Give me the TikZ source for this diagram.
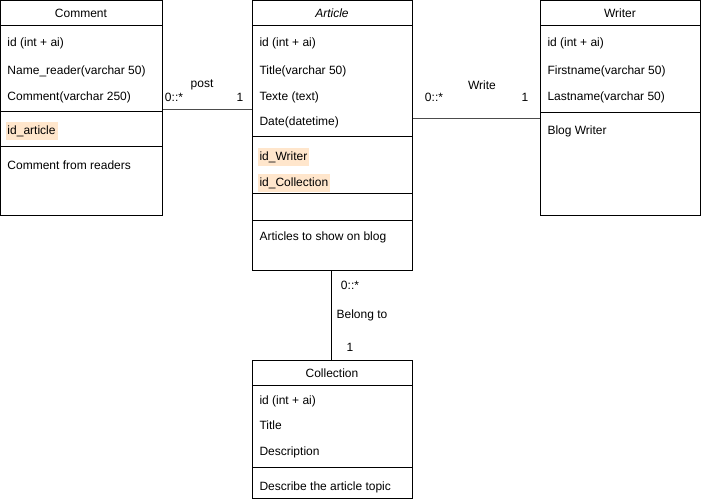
\documentclass[tikz,border=0pt]{standalone}
\usepackage{fontspec}
\setmainfont{Liberation Sans}
\begin{document}
\begin{tikzpicture}[x=1pt,y=-1pt,line width=1pt,
  every node/.style={font=\fontsize{12}{14}\selectfont},
  umlbox/.style={draw,rectangle,anchor=north west,inner sep=0pt},
  attr/.style={anchor=west,inner xsep=2pt,inner ysep=3pt,text height=9pt,text depth=3pt,yshift=-1.5pt},
  fk/.style={attr,fill=fkfill},
  ttl/.style={anchor=center,inner sep=0pt},
  lbl/.style={anchor=center,inner sep=0pt},
  assoc/.style={draw=black!70,line width=1pt},
]
\definecolor{fkfill}{HTML}{FFE6CC}
\useasboundingbox (0,0) rectangle (702,502);

% Comment
\node[umlbox,minimum width=162pt,minimum height=215pt] (comment) at (0,0) {};
\draw (comment.north west) ++(0,26) coordinate (c1) -- (c1 -| comment.east);
\draw (comment.north west) ++(0,112) coordinate (c2) -- (c2 -| comment.east);
\draw (comment.north west) ++(0,147) coordinate (c3) -- (c3 -| comment.east);
\node[ttl] (commentT) at (81,13) {Comment};
\node[attr] (cA1) at (5,42) {id (int + ai)};
\node[attr] (cA2) at (5,70) {Name\_reader(varchar 50)};
\node[attr] (cA3) at (5,96) {Comment(varchar 250)};
\node[fk] (cA4) at (5,130) {id\_article};
\node[attr] (cA5) at (5,165) {Comment from readers};

% Article
\node[umlbox,minimum width=160pt,minimum height=270pt] (article) at (252,0) {};
\draw (article.north west) ++(0,26) coordinate (a1) -- (a1 -| article.east);
\draw (article.north west) ++(0,137) coordinate (a2) -- (a2 -| article.east);
\draw (article.north west) ++(0,194) coordinate (a3) -- (a3 -| article.east);
\draw (article.north west) ++(0,221) coordinate (a4) -- (a4 -| article.east);
\node[ttl,font=\fontsize{12}{14}\selectfont\itshape] (articleT) at (332,13) {Article};
\node[attr] (aA1) at (257,42) {id (int + ai)};
\node[attr] (aA2) at (257,70) {Title(varchar 50)};
\node[attr] (aA3) at (257,96) {Texte (text)};
\node[attr] (aA4) at (257,121) {Date(datetime)};
\node[fk] (aA5) at (257,156) {id\_Writer};
\node[fk] (aA6) at (257,182) {id\_Collection};
\node[attr] (aA7) at (257,236) {Articles to show on blog};

% Writer
\node[umlbox,minimum width=160pt,minimum height=215pt] (writer) at (540,0) {};
\draw (writer.north west) ++(0,26) coordinate (w1) -- (w1 -| writer.east);
\draw (writer.north west) ++(0,113) coordinate (w2) -- (w2 -| writer.east);
\node[ttl] (writerT) at (620,13) {Writer};
\node[attr] (wA1) at (545,42) {id (int + ai)};
\node[attr] (wA2) at (545,70) {Firstname(varchar 50)};
\node[attr] (wA3) at (545,96) {Lastname(varchar 50)};
\node[attr] (wA4) at (545,130) {Blog Writer};

% Collection
\node[umlbox,minimum width=160pt,minimum height=138pt] (collection) at (252,360) {};
\draw (collection.north west) ++(0,26) coordinate (k1) -- (k1 -| collection.east);
\draw (collection.north west) ++(0,108) coordinate (k2) -- (k2 -| collection.east);
\node[ttl] (collectionT) at (332,373) {Collection};
\node[attr] (kA1) at (257,400) {id (int + ai)};
\node[attr] (kA2) at (257,425) {Title};
\node[attr] (kA3) at (257,451) {Description};
\node[attr] (kA4) at (257,486) {Describe the article topic};

% Associations
\coordinate (py) at (0,110);
\coordinate (wy) at (0,119);
\coordinate (bx) at (331,0);
\draw[assoc] (comment.east |- py) -- (article.west |- py);
\draw[assoc] (article.east |- wy) -- (writer.west |- wy);
\draw[line width=1pt] (article.south -| bx) -- (collection.north -| bx);

\node[lbl] (postL) at (202,85) {post};
\node[lbl] (postM) at (174,97) {0::*};
\node[lbl] (postO) at (240,97) {1};
\node[lbl] (writeL) at (482,85) {Write};
\node[lbl] (writeM) at (434,97) {0::*};
\node[lbl] (writeO) at (525,97) {1};
\node[lbl] (belM) at (350,285) {0::*};
\node[lbl] (belL) at (362,315) {Belong to};
\node[lbl] (belO) at (350,347) {1};
\end{tikzpicture}
\end{document}
